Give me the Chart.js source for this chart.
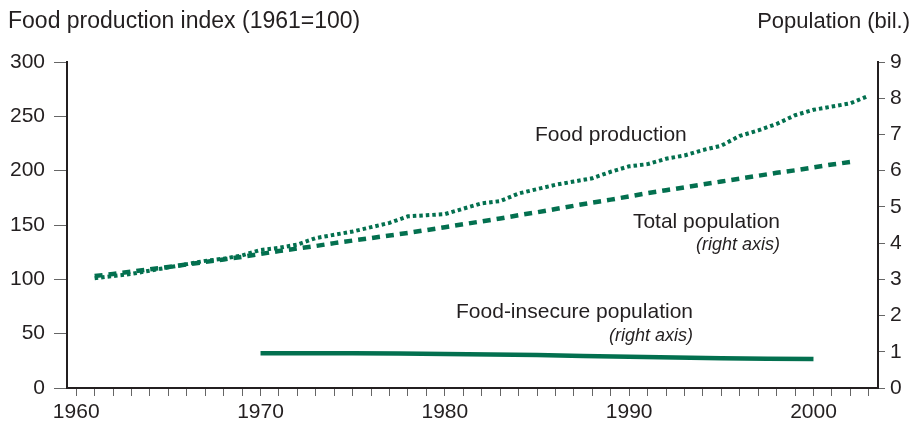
<!DOCTYPE html>
<html>
<head>
<meta charset="utf-8">
<script src="https://cdn.jsdelivr.net/npm/chart.js@4.4.0/dist/chart.umd.min.js"></script>
<style>
  body { margin: 0; background: #fff; }
  #wrap { width: 912px; height: 430px; position: relative; }
</style>
</head>
<body>
<div id="wrap"><canvas id="myChart"></canvas></div>
<script>
// years on the x axis
let prod_years = [1961,1962,1963,1964,1965,1966,1967,1968,1969,1970,1971,1972,1973,1974,1975,1976,1977,1978,1979,1980,
  1981,1982,1983,1984,1985,1986,1987,1988,1989,1990,1991,1992,1993,1994,1995,1996,1997,1998,1999,2000,2001,2002,2003];
// food production index, 1961=100 (left axis)
let food_production = [101,103,105,108,111,114,117,119,122,127,129,132,138,141,144,148,152,158,159,160,
  165,170,172,179,183,187,190,193,199,204,206,211,214,219,223,232,237,243,251,256,259,262,269];

let pop_years = [1961,1962,1963,1964,1965,1966,1967,1968,1969,1970,1971,1972,1973,1974,1975,1976,1977,1978,1979,1980,
  1981,1982,1983,1984,1985,1986,1987,1988,1989,1990,1991,1992,1993,1994,1995,1996,1997,1998,1999,2000,2001,2002];
// total population, billions (right axis)
let total_population = [3.09,3.15,3.21,3.28,3.34,3.41,3.48,3.55,3.62,3.70,3.78,3.85,3.92,4.00,4.07,4.14,4.21,4.28,4.36,4.44,
  4.52,4.60,4.68,4.77,4.85,4.94,5.03,5.12,5.20,5.29,5.38,5.46,5.54,5.62,5.70,5.78,5.86,5.94,6.01,6.09,6.17,6.24];

let insecure_years = [1970,1975,1980,1985,1990,1995,2000];
// food-insecure population, billions (right axis)
let insecure_population = [0.96,0.96,0.94,0.91,0.86,0.82,0.80];

let x_ticks = [];
for (let y = 1960; y <= 2003; y++) x_ticks.push(y);
let left_ticks = [0, 50, 100, 150, 200, 250, 300];
let right_ticks = [0, 1, 2, 3, 4, 5, 6, 7, 8, 9];

let green = '#03704f';
let ink = '#231f20';
let font_family = '"Liberation Sans", Arial, Helvetica, sans-serif';

function pairs(xs, ys) {
  let out = [];
  for (let i = 0; i < xs.length; i++) out.push({x: xs[i], y: ys[i]});
  return out;
}

// axis titles and in-chart labels
let labelsPlugin = {
  id: 'labels',
  afterDraw: function(chart) {
    let ctx = chart.ctx;
    ctx.save();
    ctx.fillStyle = ink;
    ctx.textBaseline = 'middle';
    ctx.font = '23px ' + font_family;
    ctx.textAlign = 'left';
    ctx.fillText('Food production index (1961=100)', 8, 22);
    ctx.font = '22px ' + font_family;
    ctx.textAlign = 'right';
    ctx.fillText('Population (bil.)', 910, 22);

    ctx.font = '21px ' + font_family;
    ctx.textAlign = 'left';
    ctx.fillText('Food production', 535, 135);
    ctx.textAlign = 'right';
    ctx.fillText('Total population', 780, 222);
    ctx.fillText('Food-insecure population', 693, 312);
    ctx.font = 'italic 18px ' + font_family;
    ctx.fillText('(right axis)', 780, 245);
    ctx.fillText('(right axis)', 693, 336);
    ctx.restore();
  }
};

var config = {
  type: 'line',
  data: {
    datasets: [{
      label: 'Food production',
      data: pairs(prod_years, food_production),
      yAxisID: 'y',
      borderColor: green,
      borderWidth: 4,
      borderDash: [3.5, 3],
      pointRadius: 0,
      tension: 0,
      fill: false
    }, {
      label: 'Total population',
      data: pairs(pop_years, total_population),
      yAxisID: 'y1',
      borderColor: green,
      borderWidth: 4.5,
      borderDash: [8, 6],
      pointRadius: 0,
      tension: 0,
      fill: false
    }, {
      label: 'Food-insecure population',
      data: pairs(insecure_years, insecure_population),
      yAxisID: 'y1',
      borderColor: green,
      borderWidth: 4.5,
      pointRadius: 0,
      tension: 0.2,
      fill: false
    }]
  },
  options: {
    responsive: true,
    maintainAspectRatio: false,
    animation: false,
    layout: { padding: { top: 62, left: 0, right: 0, bottom: 0 } },
    plugins: {
      legend: { display: false },
      tooltip: { enabled: false }
    },
    scales: {
      x: {
        type: 'linear',
        min: 1959.5,
        max: 2003.5,
        afterBuildTicks: function(scale) {
          scale.ticks = x_ticks.map(v => ({value: v}));
        },
        afterFit: function(scale) { scale.height = 42; },
        border: { display: true, color: ink, width: 2 },
        grid: { drawOnChartArea: false, drawTicks: true, tickLength: 8, tickColor: '#666', tickWidth: 1 },
        ticks: {
          autoSkip: false,
          maxRotation: 0,
          padding: 4,
          color: ink,
          font: { family: font_family, size: 21 },
          callback: function(v) { return v % 10 === 0 ? String(v) : ''; }
        }
      },
      y: {
        position: 'left',
        min: 0,
        max: 300,
        afterBuildTicks: function(scale) {
          scale.ticks = left_ticks.map(v => ({value: v}));
        },
        afterFit: function(scale) { scale.width = 67; },
        border: { display: true, color: ink, width: 2 },
        grid: { drawOnChartArea: false, drawTicks: true, tickLength: 13, tickColor: '#666', tickWidth: 1 },
        ticks: {
          padding: 9,
          color: ink,
          font: { family: font_family, size: 21 }
        }
      },
      y1: {
        position: 'right',
        min: 0,
        max: 9,
        afterBuildTicks: function(scale) {
          scale.ticks = right_ticks.map(v => ({value: v}));
        },
        afterFit: function(scale) { scale.width = 34; },
        border: { display: true, color: ink, width: 2 },
        grid: { drawOnChartArea: false, drawTicks: true, tickLength: 7, tickColor: '#666', tickWidth: 1 },
        ticks: {
          padding: 5,
          color: ink,
          font: { family: font_family, size: 21 }
        }
      }
    }
  },
  plugins: [labelsPlugin]
};

window.onload = function() {
  var ctx = document.getElementById('myChart').getContext('2d');
  window.myChart = new Chart(ctx, config);
};
</script>
</body>
</html>
